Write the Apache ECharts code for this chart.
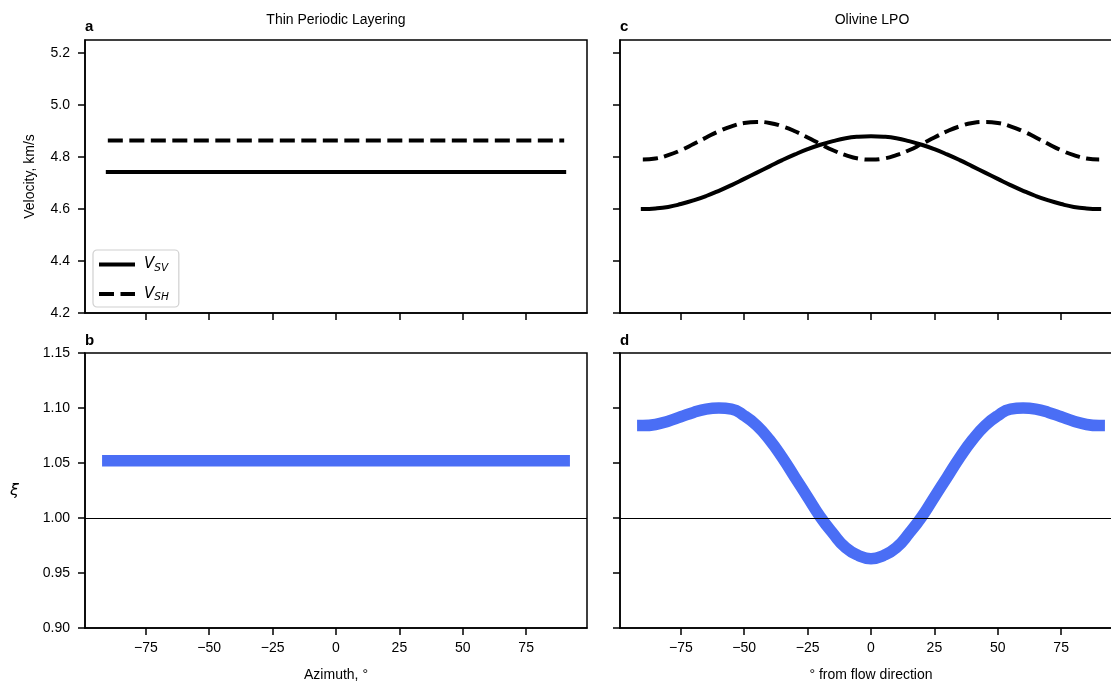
<!DOCTYPE html>
<html>
<head>
<meta charset="utf-8">
<script src="https://cdn.jsdelivr.net/npm/echarts@6/dist/echarts.min.js"></script>
<style>html,body{margin:0;padding:0;background:#fff;}#c{width:1111px;height:683px;}</style>
</head>
<body>
<div id="c"></div>
<script>
// ---- data ----
const xTicks = [-75, -50, -25, 0, 25, 50, 75];
const velTicks = [4.2, 4.4, 4.6, 4.8, 5.0, 5.2];
const xiTicks = [0.90, 0.95, 1.00, 1.05, 1.10, 1.15];

const layerAngles = [-90, 90];
const vsvLayer = [4.742, 4.742];
const vshLayer = [4.863, 4.863];
const xiLayer = [1.052, 1.052];

const olAngles = [-90,-85,-80,-75,-70,-65,-60,-55,-50,-45,-40,-35,-30,-25,-20,-15,-10,-5,0,
                  5,10,15,20,25,30,35,40,45,50,55,60,65,70,75,80,85,90];
const vsvOl = [4.600,4.602,4.608,4.619,4.633,4.650,4.670,4.692,4.716,4.740,4.764,4.788,4.810,4.830,4.847,4.861,4.872,4.878,4.880,
               4.878,4.872,4.861,4.847,4.830,4.810,4.788,4.764,4.740,4.716,4.692,4.670,4.650,4.633,4.619,4.608,4.602,4.600];
const vshOl = [4.790,4.794,4.807,4.826,4.850,4.875,4.899,4.918,4.931,4.935,4.931,4.918,4.899,4.875,4.850,4.826,4.807,4.794,4.790,
               4.794,4.807,4.826,4.850,4.875,4.899,4.918,4.931,4.935,4.931,4.918,4.899,4.875,4.850,4.826,4.807,4.794,4.790];
const xiOl = [1.084,1.085,1.088,1.092,1.096,1.099,1.100,1.099,1.093,1.084,1.071,1.055,1.037,1.019,1.001,0.986,0.973,0.966,0.963,
              0.966,0.973,0.986,1.001,1.019,1.037,1.055,1.071,1.084,1.093,1.099,1.100,1.099,1.096,1.092,1.088,1.085,1.084];

// ---- chart ----
const FONT = 'Liberation Sans';
const BLUE = '#4a6ef5';
const DASH = [15, 6.5];
const pairs = (xs, ys) => xs.map((x, i) => [x, ys[i]]);
const minus = s => String(s).replace('-', '\u2212');

const grids = [
  {left: 85, top: 40, width: 502, height: 273},
  {left: 620, top: 40, width: 502, height: 273},
  {left: 85, top: 353, width: 502, height: 275},
  {left: 620, top: 353, width: 502, height: 275}
].map(g => Object.assign(g, {show: true, borderColor: '#000', borderWidth: 1.5, backgroundColor: 'transparent',
                              containLabel: false, outerBoundsMode: 'none'}));

function xAxis(i, showLabel, name) {
  return {
    type: 'value', gridIndex: i, min: -99, max: 99,
    axisLine: {show: true, onZero: false, lineStyle: {color: '#000', width: 1.5}},
    axisTick: {show: true, length: 7, customValues: xTicks, lineStyle: {color: '#000', width: 1.5}},
    axisLabel: {show: showLabel, customValues: xTicks, margin: 13, color: '#000', fontSize: 14, fontFamily: FONT,
                formatter: v => minus(v)},
    splitLine: {show: false},
    name: name || '', nameLocation: 'middle', nameGap: 40,
    nameTextStyle: {color: '#000', fontSize: 14, fontFamily: FONT}
  };
}
function yAxis(i, top, showLabel, name, extra) {
  const a = {
    type: 'value', gridIndex: i,
    min: top ? 4.2 : 0.9, max: top ? 5.25 : 1.15,
    axisLine: {show: true, onZero: false, lineStyle: {color: '#000', width: 1.5}},
    axisTick: {show: true, length: 7, customValues: top ? velTicks : xiTicks, lineStyle: {color: '#000', width: 1.5}},
    axisLabel: {show: showLabel, customValues: top ? velTicks : xiTicks, margin: 15, color: '#000', fontSize: 14, fontFamily: FONT,
                formatter: v => Number(v).toFixed(top ? 1 : 2)},
    splitLine: {show: false},
    name: name || '', nameLocation: 'middle', nameGap: 48,
    nameTextStyle: {color: '#000', fontSize: 14, fontFamily: FONT}
  };
  return Object.assign(a, extra || {});
}

const hline = {
  silent: true, symbol: 'none', label: {show: false},
  lineStyle: {color: '#000', width: 1, type: 'solid'},
  data: [{yAxis: 1.0}], animation: false
};

const option = {
  animation: false,
  backgroundColor: '#fff',
  grid: grids,
  xAxis: [xAxis(0, false), xAxis(1, false), xAxis(2, true, 'Azimuth, \u00b0'), xAxis(3, true, '\u00b0 from flow direction')],
  yAxis: [
    yAxis(0, true, true, 'Velocity, km/s'),
    yAxis(1, true, false),
    yAxis(2, false, true, '\u03be', {nameRotate: 0, nameGap: 66,
      nameTextStyle: {color: '#000', fontSize: 16, fontStyle: 'italic', fontFamily: 'DejaVu Sans'}}),
    yAxis(3, false, false)
  ],
  legend: {
    show: true, orient: 'vertical', left: 93, top: 250,
    data: [
      {name: 'VSV', itemStyle: {opacity: 0}, lineStyle: {type: 'solid', width: 4, color: '#000', cap: 'butt'}},
      {name: 'VSH', itemStyle: {opacity: 0}, lineStyle: {type: DASH, width: 4, color: '#000', cap: 'butt'}}
    ],
    itemStyle: {opacity: 0},
    itemWidth: 36, itemHeight: 14, itemGap: 13,
    padding: [7, 10, 4, 4],
    backgroundColor: '#fff', borderColor: '#d0d0d0', borderWidth: 1.2, borderRadius: 4,
    formatter: n => n === 'VSV' ? '{v|V}{s|SV}' : '{v|V}{s|SH}',
    textStyle: {
      color: '#000',
      rich: {
        v: {fontSize: 15, fontStyle: 'italic', fontFamily: 'DejaVu Sans', color: '#000', padding: [0, 0, 0, 4]},
        s: {fontSize: 10.5, fontStyle: 'italic', fontFamily: 'DejaVu Sans', color: '#000', padding: [7, 0, 0, 0]}
      }
    }
  },
  graphic: [
    {type: 'text', x: 336, y: 20, style: {text: 'Thin Periodic Layering', textAlign: 'center', textVerticalAlign: 'middle', fill: '#000', font: '14px "Liberation Sans"'}},
    {type: 'text', x: 872, y: 20, style: {text: 'Olivine LPO', textAlign: 'center', textVerticalAlign: 'middle', fill: '#000', font: '14px "Liberation Sans"'}},
    {type: 'text', x: 85, y: 27, style: {text: 'a', textAlign: 'left', textVerticalAlign: 'middle', fill: '#000', font: 'bold 15px "Liberation Sans"'}},
    {type: 'text', x: 620, y: 27, style: {text: 'c', textAlign: 'left', textVerticalAlign: 'middle', fill: '#000', font: 'bold 15px "Liberation Sans"'}},
    {type: 'text', x: 85, y: 341, style: {text: 'b', textAlign: 'left', textVerticalAlign: 'middle', fill: '#000', font: 'bold 15px "Liberation Sans"'}},
    {type: 'text', x: 620, y: 341, style: {text: 'd', textAlign: 'left', textVerticalAlign: 'middle', fill: '#000', font: 'bold 15px "Liberation Sans"'}}
  ],
  series: [
    {name: 'VSV', type: 'line', xAxisIndex: 0, yAxisIndex: 0, data: pairs(layerAngles, vsvLayer), symbol: 'none',
     lineStyle: {color: '#000', width: 4, type: 'solid', cap: 'square'}, itemStyle: {color: '#000'}},
    {name: 'VSH', type: 'line', xAxisIndex: 0, yAxisIndex: 0, data: pairs(layerAngles, vshLayer), symbol: 'none',
     lineStyle: {color: '#000', width: 4, type: DASH, cap: 'butt'}, itemStyle: {color: '#000'}},
    {name: 'VSV', type: 'line', xAxisIndex: 1, yAxisIndex: 1, data: pairs(olAngles, vsvOl), symbol: 'none',
     smooth: 0.5,
     lineStyle: {color: '#000', width: 4, type: 'solid', cap: 'square', join: 'round'}, itemStyle: {color: '#000'}},
    {name: 'VSH', type: 'line', xAxisIndex: 1, yAxisIndex: 1, data: pairs(olAngles, vshOl), symbol: 'none',
     smooth: 0.5,
     lineStyle: {color: '#000', width: 4, type: DASH, cap: 'butt', join: 'round'}, itemStyle: {color: '#000'}},
    {name: 'xiLayer', type: 'line', xAxisIndex: 2, yAxisIndex: 2, data: pairs(layerAngles, xiLayer), symbol: 'none',
     lineStyle: {color: BLUE, width: 11.5, cap: 'square'}, itemStyle: {color: BLUE}, markLine: hline},
    {name: 'xiOl', type: 'line', xAxisIndex: 3, yAxisIndex: 3, data: pairs(olAngles, xiOl), symbol: 'none',
     smooth: 0.5,
     lineStyle: {color: BLUE, width: 11.5, cap: 'square', join: 'round'}, itemStyle: {color: BLUE}, markLine: hline}
  ]
};

const chart = echarts.init(document.getElementById('c'), null, {renderer: 'canvas'});
chart.setOption(option);
</script>
</body>
</html>
